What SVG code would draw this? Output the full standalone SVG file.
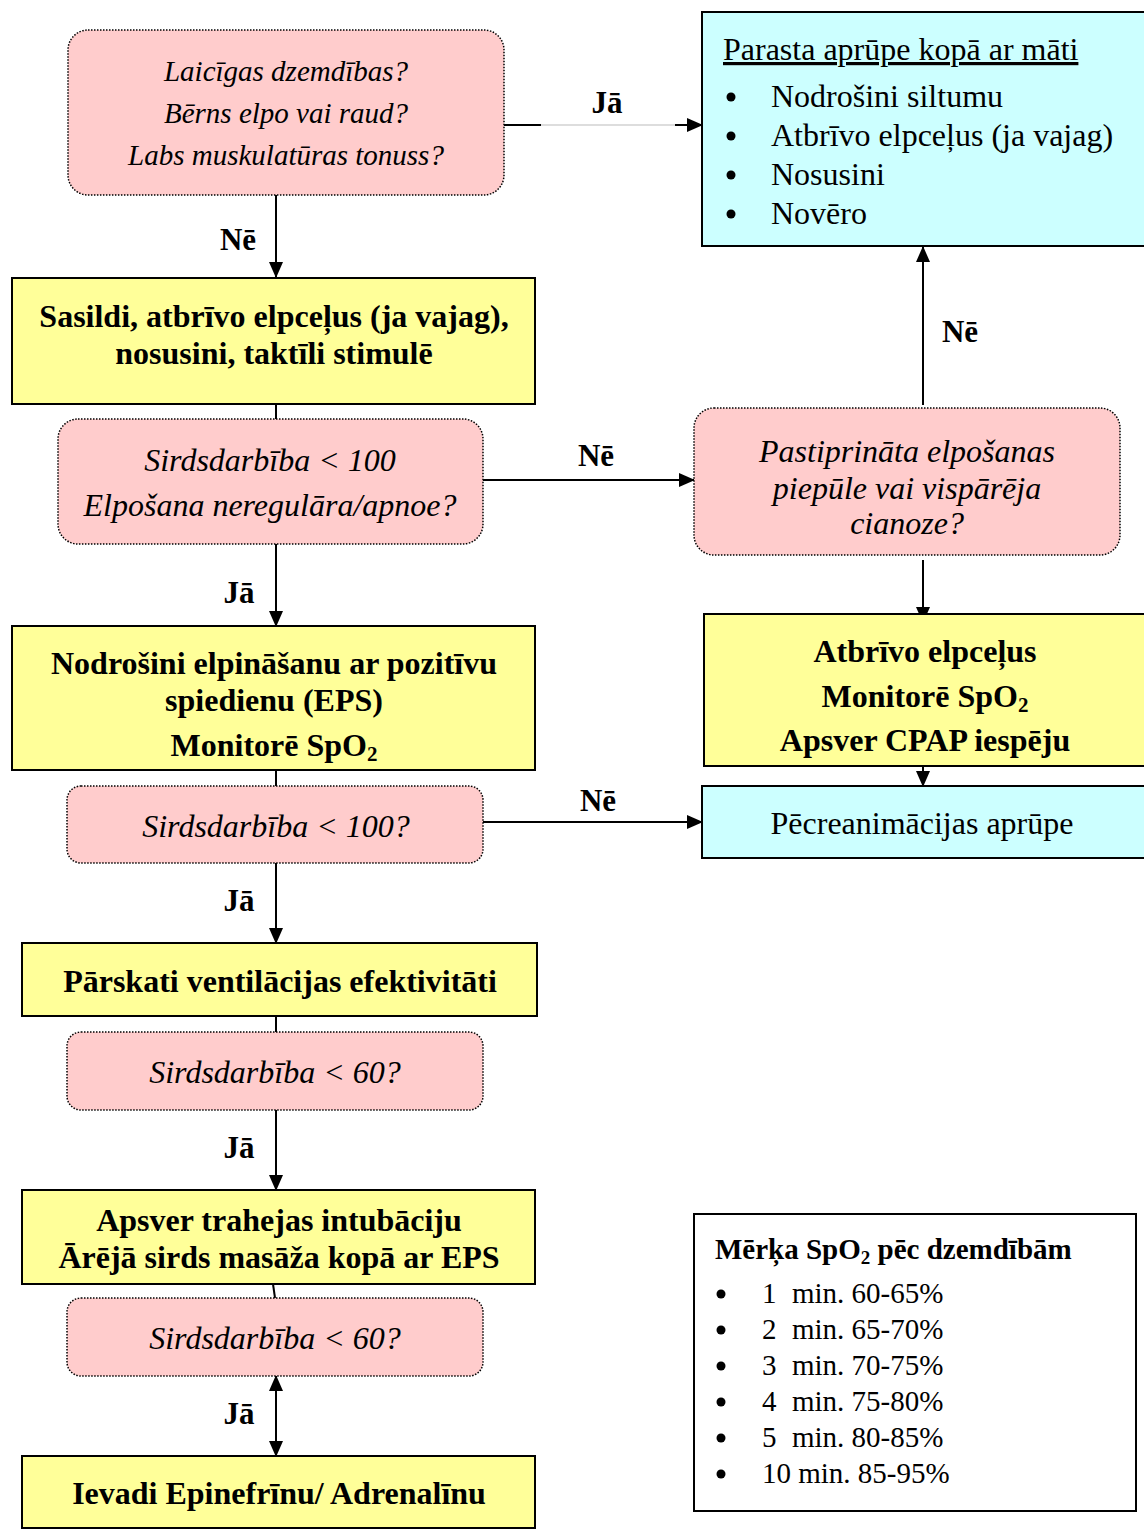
<svg xmlns="http://www.w3.org/2000/svg" width="1144" height="1533" viewBox="0 0 1144 1533">
<style>
.dec{fill:#ffcccc;stroke:#000;stroke-width:1.5;stroke-dasharray:1.5 1.5}
.act{fill:#ffff99;stroke:#000;stroke-width:2}
.care{fill:#ccffff;stroke:#000;stroke-width:2}
.note{fill:#fff;stroke:#000;stroke-width:2}
text{font-family:"Liberation Serif","Times New Roman",serif;fill:#000}
.it{font-style:italic;font-size:32px;text-anchor:middle}
.b{font-weight:bold;font-size:32px;text-anchor:middle}
.r{font-size:32px}
.s{font-size:29px}
.lbl{font-weight:bold;font-size:31px;text-anchor:middle}
.ln{stroke:#000;stroke-width:2;fill:none}
</style>
<defs>
<marker id="ah" markerUnits="userSpaceOnUse" markerWidth="16" markerHeight="14" refX="15" refY="7" orient="auto-start-reverse">
<path d="M0,0 L16,7 L0,14 z" fill="#000"/>
</marker>
</defs>
<rect width="1144" height="1533" fill="#fff"/>

<g id="connectors">
<line class="ln" x1="504" y1="125" x2="541" y2="125"/>
<line x1="541" y1="125" x2="676" y2="125" stroke="#bbb" stroke-width="1"/>
<line class="ln" x1="675" y1="125" x2="702" y2="125" marker-end="url(#ah)"/>
<line class="ln" x1="276" y1="195" x2="276" y2="277" marker-end="url(#ah)"/>
<line class="ln" x1="276" y1="404" x2="276" y2="419"/>
<line class="ln" x1="483" y1="480" x2="694" y2="480" marker-end="url(#ah)"/>
<line class="ln" x1="923" y1="405" x2="923" y2="247" marker-end="url(#ah)"/>
<line class="ln" x1="923" y1="560" x2="923" y2="622" marker-end="url(#ah)"/>
<line class="ln" x1="923" y1="766" x2="923" y2="786" marker-end="url(#ah)"/>
<line class="ln" x1="276" y1="544" x2="276" y2="626" marker-end="url(#ah)"/>
<line class="ln" x1="276" y1="770" x2="276" y2="786"/>
<line class="ln" x1="483" y1="822" x2="702" y2="822" marker-end="url(#ah)"/>
<line class="ln" x1="276" y1="863" x2="276" y2="943" marker-end="url(#ah)"/>
<line class="ln" x1="276" y1="1016" x2="276" y2="1032"/>
<line class="ln" x1="276" y1="1110" x2="276" y2="1190" marker-end="url(#ah)"/>
<line class="ln" x1="273" y1="1284" x2="275" y2="1298"/>
<line class="ln" x1="276" y1="1376" x2="276" y2="1456" marker-start="url(#ah)" marker-end="url(#ah)"/>
<text class="lbl" x="607" y="113">Jā</text>
<text class="lbl" x="238" y="250">Nē</text>
<text class="lbl" x="960" y="342">Nē</text>
<text class="lbl" x="596" y="466">Nē</text>
<text class="lbl" x="239" y="603">Jā</text>
<text class="lbl" x="598" y="811">Nē</text>
<text class="lbl" x="239" y="911">Jā</text>
<text class="lbl" x="239" y="1158">Jā</text>
<text class="lbl" x="239" y="1424">Jā</text>
</g>

<g id="q1">
<rect class="dec" x="68" y="30" width="436" height="165" rx="20"/>
<text class="it" x="286" y="81" style="font-size:29px">Laicīgas dzemdības?</text>
<text class="it" x="286" y="123" style="font-size:29px">Bērns elpo vai raud?</text>
<text class="it" x="286" y="165" style="font-size:29px">Labs muskulatūras tonuss?</text>
</g>

<g id="routine">
<rect class="care" x="702" y="12" width="450" height="234"/>
<text class="r" x="723" y="60" text-decoration="underline">Parasta aprūpe kopā ar māti</text>
<circle cx="731" cy="97" r="4.5"/><text class="r" x="771" y="107">Nodrošini siltumu</text>
<circle cx="731" cy="136" r="4.5"/><text class="r" x="771" y="146">Atbrīvo elpceļus (ja vajag)</text>
<circle cx="731" cy="175" r="4.5"/><text class="r" x="771" y="185">Nosusini</text>
<circle cx="731" cy="214" r="4.5"/><text class="r" x="771" y="224">Novēro</text>
</g>

<g id="a1">
<rect class="act" x="12" y="278" width="523" height="126"/>
<text class="b" x="274" y="327">Sasildi, atbrīvo elpceļus (ja vajag),</text>
<text class="b" x="274" y="364">nosusini, taktīli stimulē</text>
</g>

<g id="q2">
<rect class="dec" x="58" y="419" width="425" height="125" rx="20"/>
<text class="it" x="270" y="471">Sirdsdarbība &lt; 100</text>
<text class="it" x="270" y="516">Elpošana neregulāra/apnoe?</text>
</g>

<g id="q2b">
<rect class="dec" x="694" y="408" width="426" height="147" rx="20"/>
<text class="it" x="907" y="462">Pastiprināta elpošanas</text>
<text class="it" x="907" y="499">piepūle vai vispārēja</text>
<text class="it" x="907" y="534">cianoze?</text>
</g>

<g id="a2b">
<rect class="act" x="704" y="614" width="448" height="152"/>
<text class="b" x="925" y="662">Atbrīvo elpceļus</text>
<text class="b" x="925" y="707">Monitorē SpO<tspan font-size="21" dy="5">2</tspan></text>
<text class="b" x="925" y="751">Apsver CPAP iespēju</text>
</g>

<g id="post">
<rect class="care" x="702" y="786" width="450" height="72"/>
<text class="r" x="922" y="834" text-anchor="middle">Pēcreanimācijas aprūpe</text>
</g>

<g id="a2">
<rect class="act" x="12" y="626" width="523" height="144"/>
<text class="b" x="274" y="674">Nodrošini elpināšanu ar pozitīvu</text>
<text class="b" x="274" y="711">spiedienu (EPS)</text>
<text class="b" x="274" y="756">Monitorē SpO<tspan font-size="21" dy="5">2</tspan></text>
</g>

<g id="q3">
<rect class="dec" x="67" y="786" width="416" height="77" rx="14"/>
<text class="it" x="276" y="837">Sirdsdarbība &lt; 100?</text>
</g>

<g id="a3">
<rect class="act" x="22" y="943" width="515" height="73"/>
<text class="b" x="280" y="992">Pārskati ventilācijas efektivitāti</text>
</g>

<g id="q4">
<rect class="dec" x="67" y="1032" width="416" height="78" rx="14"/>
<text class="it" x="275" y="1083">Sirdsdarbība &lt; 60?</text>
</g>

<g id="a4">
<rect class="act" x="22" y="1190" width="513" height="94"/>
<text class="b" x="279" y="1231">Apsver trahejas intubāciju</text>
<text class="b" x="279" y="1268">Ārējā sirds masāža kopā ar EPS</text>
</g>

<g id="q5">
<rect class="dec" x="67" y="1298" width="416" height="78" rx="14"/>
<text class="it" x="275" y="1349">Sirdsdarbība &lt; 60?</text>
</g>

<g id="a5">
<rect class="act" x="22" y="1456" width="513" height="72"/>
<text class="b" x="279" y="1504">Ievadi Epinefrīnu/ Adrenalīnu</text>
</g>

<g id="spo2">
<rect class="note" x="694" y="1214" width="442" height="297"/>
<text x="715" y="1259" style="font-weight:bold;font-size:29px">Mērķa SpO<tspan font-size="19" dy="5">2</tspan><tspan dy="-5"> pēc dzemdībām</tspan></text>
<circle cx="721" cy="1294" r="4.5"/><text class="s" x="762" y="1303">1<tspan x="792">min. 60-65%</tspan></text>
<circle cx="721" cy="1330" r="4.5"/><text class="s" x="762" y="1339">2<tspan x="792">min. 65-70%</tspan></text>
<circle cx="721" cy="1366" r="4.5"/><text class="s" x="762" y="1375">3<tspan x="792">min. 70-75%</tspan></text>
<circle cx="721" cy="1402" r="4.5"/><text class="s" x="762" y="1411">4<tspan x="792">min. 75-80%</tspan></text>
<circle cx="721" cy="1438" r="4.5"/><text class="s" x="762" y="1447">5<tspan x="792">min. 80-85%</tspan></text>
<circle cx="721" cy="1474" r="4.5"/><text class="s" x="762" y="1483">10 min. 85-95%</text>
</g>
</svg>
